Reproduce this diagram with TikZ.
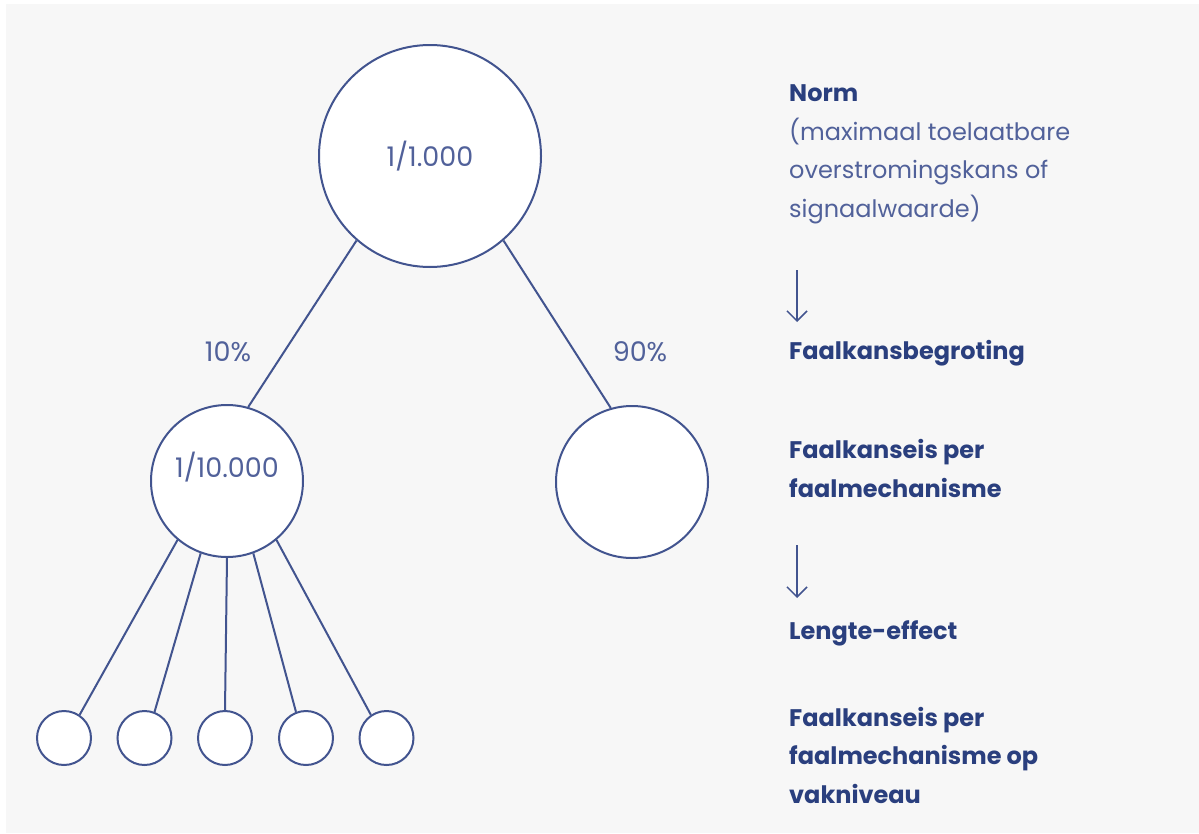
\documentclass[tikz,border=0pt]{standalone}
\usepackage{fontspec}
\setmainfont{Poppins}
\usepackage{xcolor}
\usepackage{tikz}
\usetikzlibrary{arrows.meta,positioning}
\definecolor{lijn}{HTML}{42548F}
\definecolor{tekst}{HTML}{51619A}
\definecolor{kopkleur}{HTML}{2A3F7E}
\definecolor{achtergrond}{HTML}{F7F7F7}
\begin{document}
\begin{tikzpicture}[x=1pt, y=-1pt, font=\fontsize{24}{38.5}\selectfont, every node/.style={text=tekst, inner sep=0pt}, kans/.style={circle, draw=lijn, line width=2pt, fill=white, minimum size=#1}, getal/.style={font=\fontsize{27}{30}\selectfont}, verbind/.style={draw=lijn, line width=2pt}, blok/.style={anchor=base west, align=left}, kop/.style={blok, text=kopkleur, font=\fontsize{24}{38.5}\selectfont\bfseries}, >={Straight Barb[length=10pt, width=20pt, line width=1.5pt]}]
\useasboundingbox (0,0) rectangle (1199,833);
\fill[achtergrond] (6,4) rectangle (1199,833);
\node[kans=222pt, getal] (norm) at (430,156) {1/1.000};
\node[kans=152pt] (links) at (227,481) {};
\node[getal] (linkstxt) at ([yshift=14pt]links.center) {1/10.000};
\node[kans=152pt] (rechts) at (632,482) {};
\node[kans=54pt] (v1) at (64,738) {};
\node[kans=54pt] (v2) at (144.5,738) {};
\node[kans=54pt] (v3) at (225,738) {};
\node[kans=54pt] (v4) at (306,738) {};
\node[kans=54pt] (v5) at (386.5,738) {};
\node[getal] (p10) at (228,352) {10\%};
\node[getal] (p90) at (640,352) {90\%};
\draw[verbind] (norm.229) -- (links.74);
\draw[verbind] (norm.311) -- (rechts.106);
\draw[verbind] (links.230) -- (v1.56);
\draw[verbind] (links.250) -- (v2.69);
\draw[verbind] (links.270) -- (v3.90);
\draw[verbind] (links.290) -- (v4.111);
\draw[verbind] (links.310) -- (v5.124);
\node[blok] (normtxt) at (789,217) {{\color{kopkleur}\bfseries Norm}\\(maximaal toelaatbare\\overstromingskans of\\signaalwaarde)};
\node[kop] (begroting) at (789,359) {Faalkansbegroting};
\node[kop] (eis) at (789,497) {Faalkanseis per\\faalmechanisme};
\node[kop] (lengte) at (789,639) {Lengte-effect};
\node[kop] (vakeis) at (789,803) {Faalkanseis per\\faalmechanisme op\\vakniveau};
\coordinate (pijl1a) at (797,270);
\coordinate (pijl1b) at (797,322);
\coordinate (pijl2a) at (797,545);
\coordinate (pijl2b) at (797,598);
\draw[->, draw=lijn, line width=1.5pt] (pijl1a) -- (pijl1b);
\draw[->, draw=lijn, line width=1.5pt] (pijl2a) -- (pijl2b);
\end{tikzpicture}
\end{document}
